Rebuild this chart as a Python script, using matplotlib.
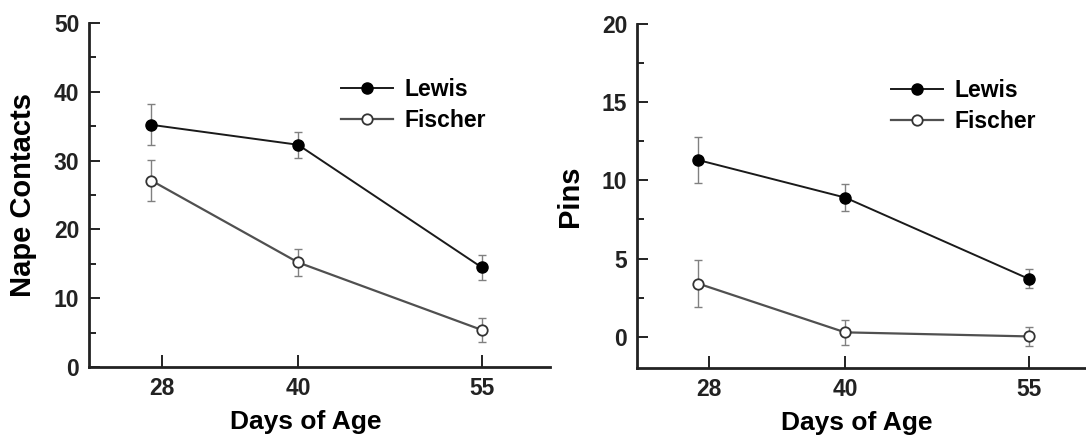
import matplotlib
matplotlib.use("Agg")
import matplotlib.pyplot as plt
from matplotlib.ticker import MultipleLocator

plt.rcParams['font.family'] = ['Liberation Sans', 'DejaVu Sans']
plt.rcParams['font.weight'] = 'bold'

# ---- data ----
days = [28, 40, 55]
tick_labels = ["28", "40", "55"]

nape_lewis = [35.2, 32.3, 14.5]
nape_lewis_err = [3.0, 1.9, 1.8]
nape_fischer = [27.1, 15.2, 5.4]
nape_fischer_err = [3.0, 2.0, 1.7]

pins_lewis = [11.3, 8.9, 3.7]
pins_lewis_err = [1.5, 0.85, 0.6]
pins_fischer = [3.4, 0.28, 0.02]
pins_fischer_err = [1.5, 0.8, 0.6]

series_names = ["Lewis", "Fischer"]

W, H = 1086, 440
fig = plt.figure(figsize=(W / 100, H / 100), dpi=100)

def make_ax(l, r, b, t):
    return fig.add_axes([l / W, 1 - b / H, (r - l) / W, (b - t) / H])

ax1 = make_ax(89, 550, 367, 23)
ax2 = make_ax(637, 1090, 368, 24)

dark = '#1a1a1a'
fgray = '#505050'
ebar = '#808080'

def draw(ax, lew, lew_e, fis, fis_e, ylim, major, minor, ylabel, xlim, ylabelpad, xlab_x, leg_x):
    ax.errorbar(days, fis, yerr=fis_e, fmt='none', ecolor=ebar, elinewidth=1.0,
                capsize=3, capthick=1.0, zorder=2)
    ax.errorbar(days, lew, yerr=lew_e, fmt='none', ecolor=ebar, elinewidth=1.0,
                capsize=3, capthick=1.0, zorder=2)
    ax.plot(days, lew, '-o', color=dark, lw=1.4, markersize=8,
            markerfacecolor='black', markeredgecolor='black', label=series_names[0], zorder=3)
    ax.plot(days, fis, '-o', color=fgray, lw=1.6, markersize=7.5,
            markerfacecolor='white', markeredgecolor='#333333', markeredgewidth=1.3,
            label=series_names[1], zorder=3)
    ax.set_ylim(*ylim)
    ax.set_xlim(*xlim)
    ax.yaxis.set_major_locator(MultipleLocator(major))
    ax.yaxis.set_minor_locator(MultipleLocator(minor))
    tick_pos = [d + (0.9 if i == 0 else 0) for i, d in enumerate(days)]
    ax.set_xticks(tick_pos)
    ax.set_xticklabels(tick_labels)
    for s in ['top', 'right']:
        ax.spines[s].set_visible(False)
    for s in ['left', 'bottom']:
        ax.spines[s].set_linewidth(2.0)
        ax.spines[s].set_color('#222222')
    ax.tick_params(axis='y', which='major', direction='in', length=8, width=1.4,
                   labelsize=16.5, pad=7, colors='#222222')
    ax.tick_params(axis='y', which='minor', direction='in', length=5, width=1.4, colors='#222222')
    ax.tick_params(axis='x', which='major', direction='in', length=9, width=1.4,
                   labelsize=16.5, pad=7, colors='#222222')
    ax.set_ylabel(ylabel, fontsize=21, fontweight='bold', labelpad=ylabelpad)
    ax.set_xlabel("Days of Age", fontsize=19, fontweight='bold')
    ax.xaxis.set_label_coords(xlab_x, -0.125)
    leg = ax.legend(loc='upper left', bbox_to_anchor=(leg_x, 0.84), frameon=False,
                    fontsize=16.5, handlelength=2.3, handletextpad=0.5,
                    labelspacing=0.35, borderaxespad=0, borderpad=0)
    for t in leg.get_texts():
        t.set_fontweight('bold')

draw(ax1, nape_lewis, nape_lewis_err, nape_fischer, nape_fischer_err,
     (0, 50), 10, 5, "Nape Contacts", (22.9, 60.6), 12, 0.471, 0.546)
draw(ax2, pins_lewis, pins_lewis_err, pins_fischer, pins_fischer_err,
     (-2, 20), 5, 2.5, "Pins", (23.0, 60.0), 13, 0.485, 0.56)

fig.savefig("out.png", dpi=100)
